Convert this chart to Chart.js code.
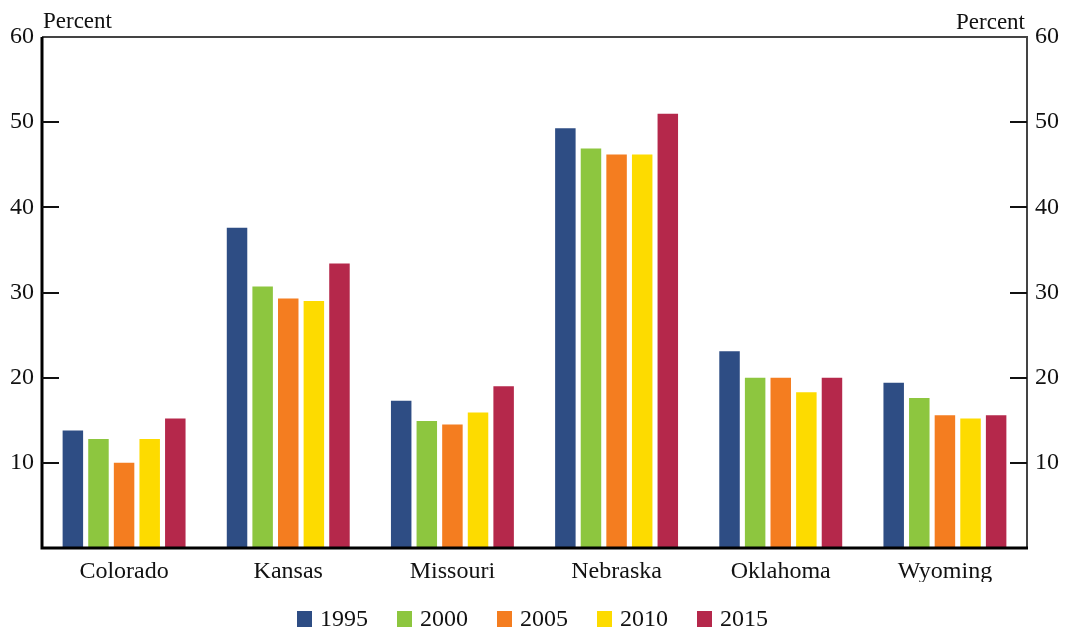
<!DOCTYPE html>
<html>
<head>
<meta charset="utf-8">
<script src="https://cdn.jsdelivr.net/npm/chart.js@4"></script>
<style>
  html, body { margin: 0; padding: 0; background: #fff; }
  #wrap { width: 1065px; height: 631px; position: relative; }
</style>
</head>
<body>
<div id="wrap"><canvas id="c"></canvas></div>
<script>
const categories = ["Colorado", "Kansas", "Missouri", "Nebraska", "Oklahoma", "Wyoming"];
const seriesNames = ["1995", "2000", "2005", "2010", "2015"];
const values1995 = [13.8, 37.6, 17.3, 49.3, 23.1, 19.4];
const values2000 = [12.8, 30.7, 14.9, 46.9, 20.0, 17.6];
const values2005 = [10.0, 29.3, 14.5, 46.2, 20.0, 15.6];
const values2010 = [12.8, 29.0, 15.9, 46.2, 18.3, 15.2];
const values2015 = [15.2, 33.4, 19.0, 51.0, 20.0, 15.6];
const seriesColors = ["#2E4D84", "#8DC63F", "#F47D20", "#FDDB00", "#B5284B"];
const yTicks = [10, 20, 30, 40, 50, 60];
const axisTitle = "Percent";

const FONT = "'Liberation Serif', 'Times New Roman', serif";
const allValues = [values1995, values2000, values2005, values2010, values2015];

const datasets = seriesNames.map((n, i) => ({
  label: n,
  data: allValues[i],
  backgroundColor: seriesColors[i],
  borderWidth: 0,
  yAxisID: 'y',
  categoryPercentage: 0.78,
  barPercentage: 0.8
}));

const framePlugin = {
  id: 'frame',
  afterDraw(chart) {
    const ctx = chart.ctx;
    const a = chart.chartArea;
    const yL = chart.scales.y;
    const yR = chart.scales.y2;
    ctx.save();
    // frame
    ctx.strokeStyle = '#444';
    ctx.lineWidth = 2;
    ctx.beginPath();
    ctx.moveTo(a.left, a.top); ctx.lineTo(a.right, a.top);
    ctx.lineTo(a.right, a.bottom);
    ctx.stroke();
    ctx.strokeStyle = '#000';
    ctx.lineWidth = 3;
    ctx.beginPath();
    ctx.moveTo(a.left, a.top); ctx.lineTo(a.left, a.bottom); ctx.lineTo(a.right + 1, a.bottom);
    ctx.stroke();
    // inner tick marks
    ctx.lineWidth = 2;
    ctx.strokeStyle = '#111';
    yTicks.forEach(v => {
      if (v >= 60) return;
      const py = Math.round(yL.getPixelForValue(v));
      ctx.beginPath(); ctx.moveTo(a.left, py); ctx.lineTo(a.left + 17, py); ctx.stroke();
      const pr = Math.round(yR.getPixelForValue(v));
      ctx.beginPath(); ctx.moveTo(a.right - 17, pr); ctx.lineTo(a.right, pr); ctx.stroke();
    });
    // axis titles
    ctx.fillStyle = '#111';
    ctx.font = '23px ' + FONT;
    ctx.textBaseline = 'alphabetic';
    ctx.textAlign = 'left';
    ctx.fillText(axisTitle, a.left + 1, a.top - 9);
    ctx.textAlign = 'right';
    ctx.fillText(axisTitle, a.right - 2, a.top - 8);
    // legend
    ctx.font = '24px ' + FONT;
    const box = 15, gap = 8, spacing = 29;
    const widths = chart.data.datasets.map(d => box + gap + ctx.measureText(d.label).width);
    const total = widths.reduce((s, w) => s + w, 0) + spacing * (widths.length - 1);
    let x = (a.left + a.right) / 2 - total / 2 - 2;
    const cy = 619;
    ctx.textAlign = 'left';
    ctx.textBaseline = 'middle';
    chart.data.datasets.forEach((d, i) => {
      ctx.fillStyle = d.backgroundColor;
      ctx.fillRect(x, cy - 8, box, 16);
      ctx.fillStyle = '#111';
      ctx.fillText(d.label, x + box + gap, cy + 1);
      x += widths[i] + spacing;
    });
    ctx.restore();
  }
};

new Chart(document.getElementById('c'), {
  type: 'bar',
  data: { labels: categories, datasets },
  options: {
    responsive: true,
    maintainAspectRatio: false,
    animation: false,
    devicePixelRatio: 1,
    layout: { padding: { top: 37, bottom: 49, left: 0, right: 0 } },
    plugins: { legend: { display: false }, tooltip: { enabled: false } },
    scales: {
      x: {
        grid: { display: false, drawTicks: false },
        border: { display: false },
        ticks: { color: '#111', font: { family: FONT, size: 24 }, padding: 9, maxRotation: 0 },
        afterFit(s) { s.height = 34; }
      },
      y: {
        position: 'left',
        min: 0, max: 60,
        grid: { display: false, drawTicks: false },
        border: { display: false },
        ticks: {
          stepSize: 10, color: '#111', padding: 8,
          font: { family: FONT, size: 24 },
          callback: v => (yTicks.includes(v) ? String(v) : '')
        },
        afterFit(s) { s.width = 42; }
      },
      y2: {
        position: 'right',
        min: 0, max: 60,
        grid: { display: false, drawTicks: false },
        border: { display: false },
        ticks: {
          stepSize: 10, color: '#111', padding: 8,
          font: { family: FONT, size: 24 },
          callback: v => (yTicks.includes(v) ? String(v) : '')
        },
        afterFit(s) { s.width = 38; }
      }
    }
  },
  plugins: [framePlugin]
});
</script>
</body>
</html>
